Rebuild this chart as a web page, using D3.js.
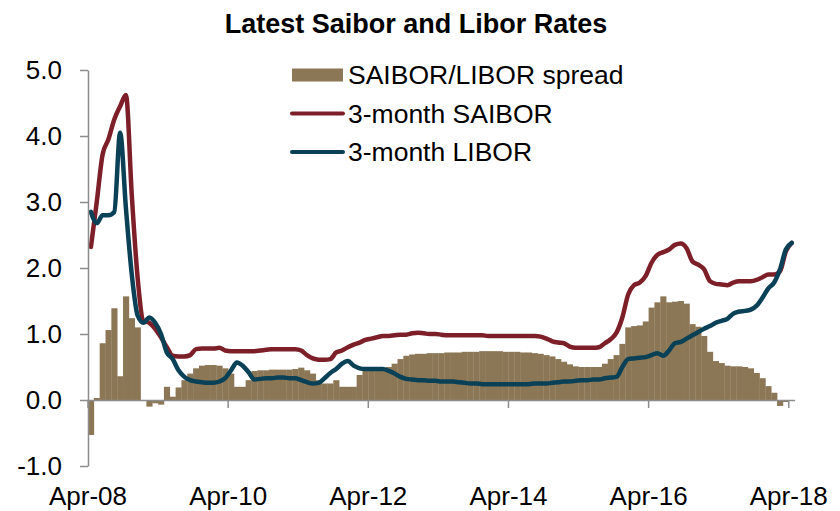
<!DOCTYPE html>
<html>
<head>
<meta charset="utf-8">
<script src="https://cdn.jsdelivr.net/npm/d3@7"></script>
<style>
  body { margin: 0; background: #fff; }
  text { font-family: "Liberation Sans", Arial, sans-serif; }
</style>
</head>
<body>
<div id="chart"></div>
<script>
'use strict'

// monthly, Apr-08 .. Apr-18
const months = d3.timeMonth.range(new Date(2008, 3, 1), new Date(2018, 4, 1));
const tickLabels = ['Apr-08', 'Apr-10', 'Apr-12', 'Apr-14', 'Apr-16', 'Apr-18'];
const yTicks = [-1, 0, 1, 2, 3, 4, 5];

const spread = [
  -0.53, 0.03, 0.86, 1.06, 1.39, 0.36, 1.57, 1.24, 1.10, 0.00,
  -0.10, -0.05, -0.07, 0.20, 0.05, 0.19, 0.30, 0.40, 0.48, 0.52,
  0.53, 0.53, 0.52, 0.48, 0.40, 0.20, 0.20, 0.30, 0.44, 0.45,
  0.45, 0.46, 0.46, 0.46, 0.46, 0.47, 0.49, 0.45, 0.40, 0.30,
  0.25, 0.25, 0.30, 0.20, 0.20, 0.20, 0.38, 0.45, 0.45, 0.46,
  0.47, 0.50, 0.55, 0.62, 0.67, 0.69, 0.70, 0.70, 0.71, 0.71,
  0.71, 0.72, 0.72, 0.72, 0.73, 0.73, 0.73, 0.74, 0.74, 0.74,
  0.74, 0.73, 0.73, 0.73, 0.72, 0.72, 0.71, 0.70, 0.68, 0.66,
  0.62, 0.58, 0.54, 0.51, 0.50, 0.50, 0.50, 0.50, 0.55, 0.62,
  0.68, 0.85, 1.10, 1.12, 1.13, 1.19, 1.40, 1.48, 1.57, 1.48,
  1.49, 1.50, 1.46, 1.15, 1.11, 0.97, 0.73, 0.59, 0.56, 0.52,
  0.51, 0.51, 0.50, 0.48, 0.41, 0.33, 0.21, 0.11, -0.09, -0.03,
  0.00
];

const saibor = [
  2.32, 3.00, 3.72, 3.95, 4.25, 4.45, 4.62, 3.10, 1.85, 1.20,
  1.17, 1.08, 0.95, 0.80, 0.67, 0.66, 0.66, 0.68, 0.77, 0.78,
  0.78, 0.78, 0.79, 0.75, 0.74, 0.74, 0.74, 0.74, 0.74, 0.75,
  0.76, 0.77, 0.77, 0.77, 0.77, 0.77, 0.75, 0.68, 0.63, 0.61,
  0.61, 0.62, 0.72, 0.75, 0.80, 0.84, 0.87, 0.91, 0.93, 0.95,
  0.97, 0.97, 0.98, 0.99, 0.99, 1.01, 1.02, 1.01, 1.00, 1.00,
  0.99, 0.98, 0.98, 0.98, 0.98, 0.98, 0.98, 0.98, 0.97, 0.97,
  0.97, 0.97, 0.97, 0.97, 0.97, 0.97, 0.97, 0.96, 0.93, 0.89,
  0.87, 0.86, 0.81, 0.79, 0.79, 0.79, 0.79, 0.80, 0.86, 0.92,
  1.02, 1.25, 1.60, 1.74, 1.78, 1.88, 2.08, 2.20, 2.24, 2.28,
  2.35, 2.37, 2.30, 2.10, 2.05, 1.98, 1.80, 1.76, 1.75, 1.74,
  1.78, 1.80, 1.80, 1.80, 1.82, 1.86, 1.90, 1.90, 1.95, 2.25,
  2.38
];

const libor = [
  2.85, 2.68, 2.80, 2.80, 2.85, 4.05, 2.90, 1.90, 1.28, 1.17,
  1.25, 1.17, 1.00, 0.72, 0.62, 0.45, 0.35, 0.30, 0.28, 0.27,
  0.26, 0.26, 0.28, 0.33, 0.45, 0.57, 0.52, 0.42, 0.31, 0.32,
  0.33, 0.33, 0.34, 0.34, 0.33, 0.33, 0.30, 0.27, 0.25, 0.26,
  0.33, 0.41, 0.47, 0.55, 0.59, 0.52, 0.48, 0.47, 0.47, 0.47,
  0.47, 0.44, 0.40, 0.35, 0.32, 0.31, 0.30, 0.30, 0.29, 0.29,
  0.28, 0.28, 0.28, 0.27, 0.26, 0.25, 0.25, 0.24, 0.24, 0.24,
  0.24, 0.24, 0.24, 0.24, 0.24, 0.24, 0.25, 0.25, 0.25, 0.26,
  0.27, 0.28, 0.28, 0.29, 0.30, 0.30, 0.31, 0.31, 0.33, 0.34,
  0.35, 0.50, 0.62, 0.63, 0.64, 0.65, 0.68, 0.71, 0.67, 0.75,
  0.86, 0.88, 0.93, 0.98, 1.03, 1.08, 1.12, 1.17, 1.20, 1.23,
  1.31, 1.34, 1.35, 1.37, 1.43, 1.55, 1.69, 1.78, 1.98, 2.28,
  2.38
];

const colors = {spread: '#8b7755', saibor: '#7d1f28', libor: '#0a4156', axis: '#8c8c8c'};

const W = 840, H = 511;
const fmtMonth = d3.timeFormat('%b-%y');

const svg = d3.select('#chart').append('svg')
  .attr('width', W)
  .attr('height', H);

const x = d3.scaleBand()
  .domain(months.map(fmtMonth))
  .range([88, 794.6])
  .paddingInner(0)
  .paddingOuter(0);

const y = d3.scaleLinear()
  .domain([-1, 5])
  .range([466, 70]);

// title
svg.append('text')
  .attr('x', 416)
  .attr('y', 33)
  .attr('text-anchor', 'middle')
  .style('font-size', '27px')
  .style('font-weight', 'bold')
  .text('Latest Saibor and Libor Rates');

// spread bars
svg.append('g').selectAll('rect')
  .data(spread)
  .enter().append('rect')
    .attr('x', (d, i) => x(fmtMonth(months[i])))
    .attr('y', d => y(Math.max(0, d)))
    .attr('width', x.bandwidth() + 0.3)
    .attr('height', d => Math.abs(y(d) - y(0)))
    .attr('fill', colors.spread);

// lines
const line = d3.line()
  .x((d, i) => x(fmtMonth(months[i])) + x.bandwidth() / 2)
  .y(d => y(d))
  .curve(d3.curveMonotoneX);

svg.append('path')
  .datum(saibor)
  .attr('fill', 'none')
  .attr('stroke', colors.saibor)
  .attr('stroke-width', 4.5)
  .attr('stroke-linejoin', 'round')
  .attr('stroke-linecap', 'round')
  .attr('d', line);

svg.append('path')
  .datum(libor)
  .attr('fill', 'none')
  .attr('stroke', colors.libor)
  .attr('stroke-width', 4.5)
  .attr('stroke-linejoin', 'round')
  .attr('stroke-linecap', 'round')
  .attr('d', line);

// y axis
const yAxis = svg.append('g')
  .attr('transform', 'translate(88,0)')
  .call(d3.axisLeft(y).tickValues(yTicks).tickFormat(d => d.toFixed(1)).tickSize(8).tickSizeOuter(0));

yAxis.select('.domain').attr('stroke', colors.axis).attr('stroke-width', 1.5);
yAxis.selectAll('.tick line').attr('stroke', colors.axis).attr('stroke-width', 1.5);
yAxis.selectAll('.tick text')
  .attr('x', -26)
  .style('font-size', '26px')
  .style('font-family', '"Liberation Sans", Arial, sans-serif')
  .attr('fill', '#000');

// x axis (at zero)
const tickMonths = months.map(fmtMonth).filter(m => tickLabels.includes(m));
const xAxis = svg.append('g')
  .attr('transform', `translate(0,${y(0)})`)
  .call(d3.axisBottom(x).tickValues(tickMonths).tickSize(8).tickSizeOuter(0).tickFormat(() => ''));

xAxis.select('.domain').attr('stroke', colors.axis).attr('stroke-width', 1.5);
xAxis.selectAll('.tick')
  .attr('transform', d => `translate(${x(d)},0)`);
xAxis.selectAll('.tick line').attr('stroke', colors.axis).attr('stroke-width', 1.5);

// x tick labels along the bottom
svg.append('g').selectAll('text')
  .data(tickMonths)
  .enter().append('text')
    .attr('x', d => x(d))
    .attr('y', 505)
    .attr('text-anchor', 'middle')
    .style('font-size', '26px')
    .text(d => d);

// legend
const legend = svg.append('g');
const legendItems = [
  {label: 'SAIBOR/LIBOR spread', type: 'bar', color: colors.spread},
  {label: '3-month SAIBOR', type: 'line', color: colors.saibor},
  {label: '3-month LIBOR', type: 'line', color: colors.libor}
];

legendItems.forEach((d, i) => {
  const cy = 75 + i * 38.5;
  if (d.type === 'bar') {
    legend.append('rect')
      .attr('x', 292).attr('y', cy - 6.5)
      .attr('width', 51).attr('height', 13)
      .attr('fill', d.color);
  } else {
    legend.append('line')
      .attr('x1', 292).attr('x2', 343)
      .attr('y1', cy).attr('y2', cy)
      .attr('stroke', d.color)
      .attr('stroke-width', 4)
      .attr('stroke-linecap', 'round');
  }
  legend.append('text')
    .attr('x', 348)
    .attr('y', cy + 9)
    .style('font-size', '26.5px')
    .text(d.label);
});
</script>
</body>
</html>
